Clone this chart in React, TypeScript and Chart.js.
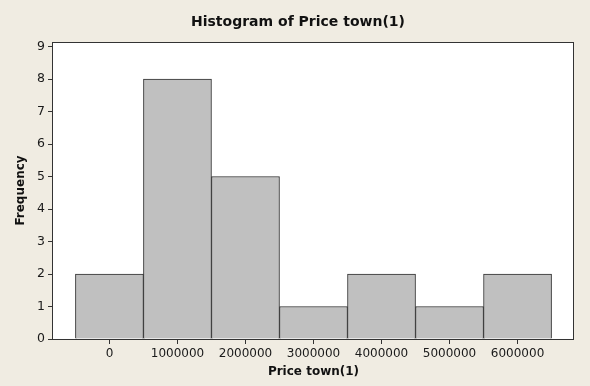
import React, { useEffect, useRef } from "react";
import { Chart, registerables } from "chart.js";

Chart.register(...registerables);

const binCenters = [0, 1000000, 2000000, 3000000, 4000000, 5000000, 6000000];
const frequencies = [2, 8, 5, 1, 2, 1, 2];
const xTickValues = [0, 1000000, 2000000, 3000000, 4000000, 5000000, 6000000];
const yTickValues = [0, 1, 2, 3, 4, 5, 6, 7, 8, 9];

const chartTitle = "Histogram of Price town(1)";
const xTitle = "Price town(1)";
const yTitle = "Frequency";

const FONT = '"DejaVu Sans", Verdana, sans-serif';
const BG = "#f0ece2";
const INK = "#333333";

const decorPlugin = {
  id: "decor",
  beforeDraw(chart: any) {
    const { ctx, chartArea } = chart;
    ctx.save();
    ctx.fillStyle = BG;
    ctx.fillRect(0, 0, chart.width, chart.height);
    ctx.fillStyle = "#ffffff";
    ctx.fillRect(chartArea.left, chartArea.top, chartArea.right - chartArea.left, chartArea.bottom - chartArea.top);
    ctx.restore();
  },
  afterDraw(chart: any) {
    const { ctx, chartArea } = chart;
    ctx.save();
    ctx.strokeStyle = INK;
    ctx.lineWidth = 1;
    ctx.strokeRect(
      Math.round(chartArea.left) - 0.5,
      Math.round(chartArea.top) + 0.5,
      Math.round(chartArea.right - chartArea.left),
      Math.round(chartArea.bottom - chartArea.top)
    );
    ctx.fillStyle = "#111111";
    ctx.textAlign = "center";
    ctx.textBaseline = "alphabetic";
    ctx.font = `bold 14px ${FONT}`;
    ctx.fillText(chartTitle, 298, 26);
    ctx.font = `bold 12px ${FONT}`;
    ctx.fillText(xTitle, (chartArea.left + chartArea.right) / 2, 375);
    ctx.translate(21, (chartArea.top + chartArea.bottom) / 2);
    ctx.rotate(-Math.PI / 2);
    ctx.textBaseline = "middle";
    ctx.fillText(yTitle, 0, 0);
    ctx.restore();
  },
};

export default function App() {
  const canvasRef = useRef<HTMLCanvasElement | null>(null);

  useEffect(() => {
    document.body.style.margin = "0";
    const canvas = canvasRef.current;
    if (!canvas) return;
    const chart = new Chart(canvas, {
      type: "bar",
      data: {
        datasets: [
          {
            label: "Frequency",
            data: binCenters.map((x, i) => ({ x, y: frequencies[i] })),
            backgroundColor: "#c0c0c0",
            borderColor: "#2e2e2e",
            borderWidth: 1,
            barPercentage: 1,
            categoryPercentage: 1,
          },
        ],
      },
      options: {
        responsive: false,
        animation: false,
        devicePixelRatio: 1,
        layout: { padding: { top: 42, left: 0, right: 16, bottom: 0 } },
        plugins: {
          legend: { display: false },
          title: { display: false },
          tooltip: { enabled: false },
        },
        scales: {
          x: {
            type: "linear",
            min: -830000,
            max: 6830000,
            offset: false,
            grid: { display: true, offset: false, drawOnChartArea: false, drawTicks: true, tickLength: 5, color: INK },
            border: { display: false },
            afterBuildTicks: (axis: any) => {
              axis.ticks = xTickValues.map((v) => ({ value: v }));
            },
            afterFit: (axis: any) => {
              axis.height = 47;
            },
            ticks: {
              autoSkip: false,
              maxRotation: 0,
              padding: 3,
              color: "#1a1a1a",
              font: { family: FONT, size: 12 },
              callback: (v: any) => String(v),
            },
          },
          y: {
            type: "linear",
            min: 0,
            max: 9.14,
            grid: { display: true, drawOnChartArea: false, drawTicks: true, tickLength: 5, color: INK },
            border: { display: false },
            afterBuildTicks: (axis: any) => {
              axis.ticks = yTickValues.map((v) => ({ value: v }));
            },
            afterFit: (axis: any) => {
              axis.width = 53;
            },
            ticks: {
              padding: 3,
              color: "#1a1a1a",
              font: { family: FONT, size: 12.5 },
              callback: (v: any) => String(v),
            },
          },
        },
      },
      plugins: [decorPlugin],
    });
    return () => chart.destroy();
  }, []);

  return (
    <div style={{ width: 590, height: 386 }}>
      <canvas ref={canvasRef} width={590} height={386} style={{ display: "block" }} />
    </div>
  );
}
